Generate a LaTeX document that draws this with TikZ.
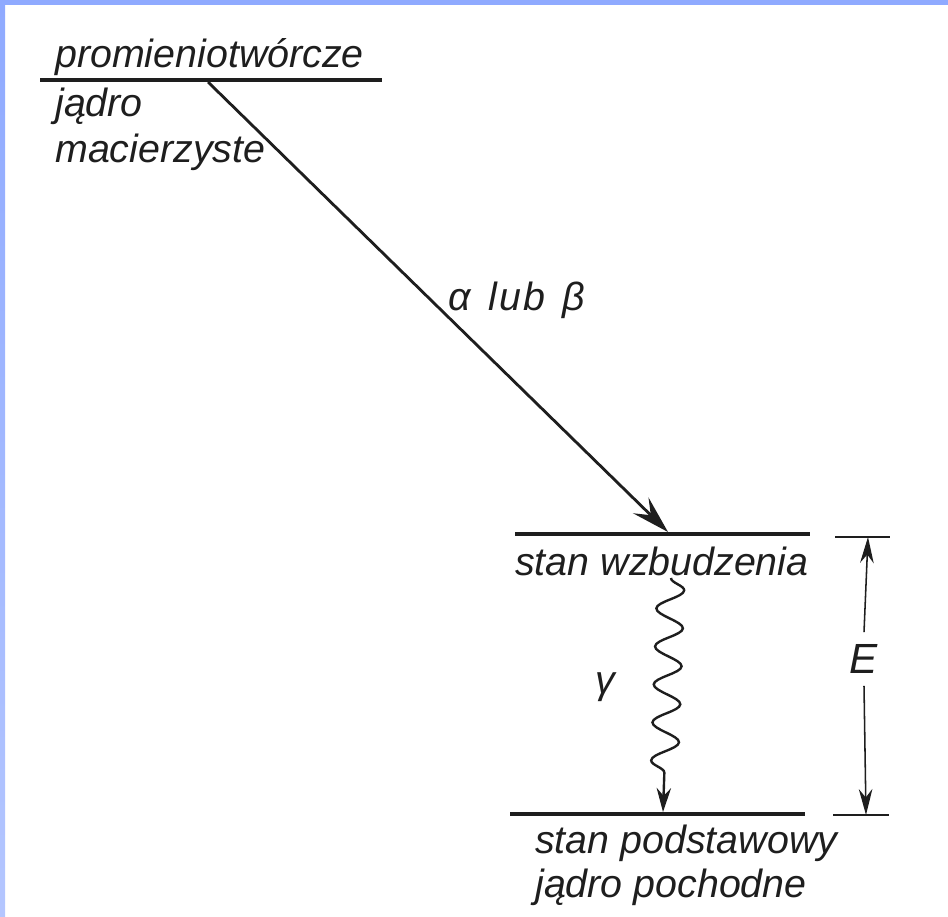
\documentclass[tikz,border=0pt]{standalone}
\usepackage{fontspec}
\setmainfont{Liberation Sans}
\usepackage{tikz}
\usetikzlibrary{arrows.meta,decorations.pathmorphing}
\definecolor{bandtop}{RGB}{143,170,255}
\definecolor{bandlow}{RGB}{180,198,255}
\definecolor{ink}{RGB}{30,30,30}

\begin{document}
\begin{tikzpicture}[x=0.025cm,y=-0.025cm,
    level/.style={ink,line width=2.6pt},
    lbl/.style={inner sep=0pt,font=\fontsize{28}{33}\selectfont\itshape,text=ink},
    decay/.style={ink,line width=2pt,-{Stealth[length=0.95cm,width=0.55cm,inset=0.35cm]}},
    photon/.style={ink,line width=1.7pt,decorate,
      decoration={snake,amplitude=0.34cm,segment length=0.95cm,post length=0.6cm},
      -{Stealth[length=0.6cm,width=0.36cm]}},
    dimarrow/.style={ink,line width=1.1pt,-{Stealth[length=0.65cm,width=0.34cm]}},
    tick/.style={ink,line width=1.4pt}]
    \useasboundingbox (0,0) rectangle (948,916);
    \shade[top color=bandtop,bottom color=bandlow] (0,0) rectangle (5,916);
    \fill[bandtop] (0,0) rectangle (948,5);

    \coordinate (p1) at (40,80);
    \coordinate (p2) at (382,80);
    \coordinate (w1) at (515,534);
    \coordinate (w2) at (810,534);
    \coordinate (g1) at (510,814);
    \coordinate (g2) at (805,814);
    \draw[level] (p1) -- (p2);
    \draw[level] (w1) -- (w2);
    \draw[level] (g1) -- (g2);

    \node[lbl,anchor=base west] (parent) at (55,67) {promieniotwórcze};
    \node[lbl,anchor=base west] (parent2) at (55,116) {jądro};
    \node[lbl,anchor=base west] (parent3) at (55,162) {macierzyste};
    \node[lbl,anchor=base west] (excited) at (515,575) {stan wzbudzenia};
    \node[lbl,anchor=base west] (ground) at (535,853) {stan podstawowy};
    \node[lbl,anchor=base west] (daughter) at (535,897) {jądro pochodne};
    \node[lbl,anchor=base west] (ab) at (448,310) {α\hspace{0.45em}l\kern0.05em u\kern0.05em b\hspace{0.45em}β};
    \node[lbl] (gamma) at (605,687) {γ};
    \node[lbl,font=\fontsize{30}{33}\selectfont\itshape,inner sep=0.3cm] (E) at (864,659) {E};

    \coordinate (a1) at (208,82);
    \coordinate (a2) at (668,532);
    \draw[decay] (a1) -- (a2);

    \coordinate (f1) at (671,578);
    \coordinate (f2) at (663,812);
    \draw[photon] (f1) -- (f2);

    \coordinate (t1) at (835,537);
    \coordinate (t2) at (890,537);
    \coordinate (b1) at (833,815);
    \coordinate (b2) at (889,815);
    \draw[tick] (t1) -- (t2);
    \draw[tick] (b1) -- (b2);
    \coordinate (et) at (868,537);
    \coordinate (eb) at (866,815);
    \draw[dimarrow] (E.north) -- (et);
    \draw[dimarrow] (E.south) -- (eb);
  \end{tikzpicture}
\end{document}
